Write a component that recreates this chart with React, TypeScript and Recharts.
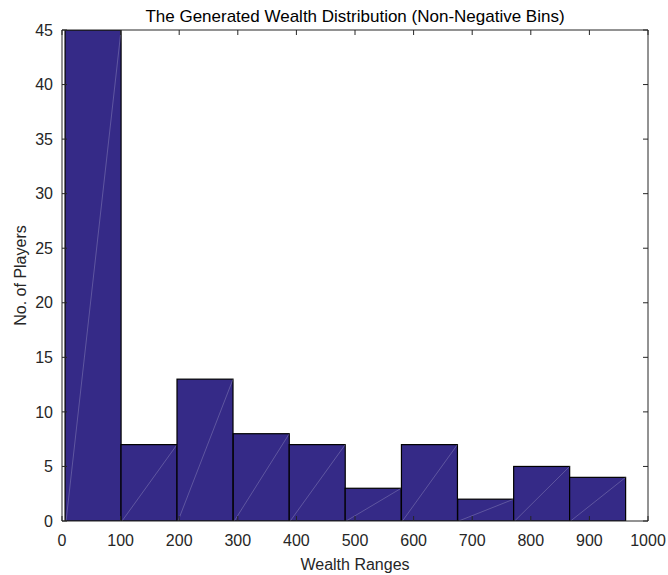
import React from "react";
import { Bar, BarChart, XAxis, YAxis } from "recharts";

// histogram bins: centre of each wealth bin and its player count
const binCenters = [53, 148.5, 244, 340, 435.5, 531, 627, 723, 818.5, 914];
const playerCounts = [45, 7, 13, 8, 7, 3, 7, 2, 5, 4];

const xTicks = [0, 100, 200, 300, 400, 500, 600, 700, 800, 900, 1000];
const yTicks = [0, 5, 10, 15, 20, 25, 30, 35, 40, 45];

const BAR_FILL = "#352a87";
const AXIS_COLOR = "#262626";
const FONT = "'Liberation Sans', Arial, Helvetica, sans-serif";

const data = binCenters.map((x, i) => ({ x, count: playerCounts[i] }));

// filled bin with black edge and the faint diagonal seam across the patch
function HistBar(props: any) {
  const { x, y, width, height } = props;
  if (!height) return <g />;
  return (
    <g>
      <rect x={x} y={y} width={width} height={height} fill={BAR_FILL} stroke="#000" strokeWidth={1.2} />
      <line
        x1={x + 1}
        y1={y + height}
        x2={x + width}
        y2={y}
        stroke="rgba(255,255,255,0.35)"
        strokeWidth={0.6}
      />
    </g>
  );
}

const noLabel = () => <g />;
const tickStyle = { fontSize: 16, fill: AXIS_COLOR, fontFamily: FONT };

export default function App() {
  return (
    <div style={{ position: "absolute", left: 0, top: 0, background: "#fff" }}>
      <BarChart
        width={668}
        height={575}
        data={data}
        margin={{ top: 29, right: 19, left: 0, bottom: 0 }}
        barCategoryGap={0}
        barGap={0}
        style={{ fontFamily: FONT }}
      >
        <XAxis
          dataKey="x"
          type="number"
          domain={[0, 1000]}
          ticks={xTicks}
          interval={0}
          height={54}
          tickSize={-5}
          tickMargin={19}
          stroke={AXIS_COLOR}
          tick={tickStyle}
          allowDataOverflow
          label={{
            value: "Wealth Ranges",
            position: "insideBottom",
            offset: 5,
            style: { fontSize: 16, fill: AXIS_COLOR, fontFamily: FONT },
          }}
        />
        <XAxis
          xAxisId="top"
          dataKey="x"
          orientation="top"
          type="number"
          domain={[0, 1000]}
          ticks={xTicks}
          interval={0}
          height={1}
          tickSize={-5}
          tickMargin={0}
          stroke={AXIS_COLOR}
          tick={noLabel}
          allowDataOverflow
          label={{
            value: "The Generated Wealth Distribution (Non-Negative Bins)",
            position: "top",
            offset: 7,
            style: { fontSize: 17, fill: "#000", fontFamily: FONT },
          }}
        />
        <YAxis
          type="number"
          domain={[0, 45]}
          ticks={yTicks}
          interval={0}
          width={62}
          tickSize={-5}
          tickMargin={14}
          stroke={AXIS_COLOR}
          tick={tickStyle}
          allowDataOverflow
          label={{
            value: "No. of Players",
            angle: -90,
            position: "insideLeft",
            offset: 20,
            style: { fontSize: 16, fill: AXIS_COLOR, fontFamily: FONT, textAnchor: "middle" },
          }}
        />
        <YAxis
          yAxisId="right"
          orientation="right"
          type="number"
          domain={[0, 45]}
          ticks={yTicks}
          interval={0}
          width={1}
          tickSize={-5}
          tickMargin={0}
          stroke={AXIS_COLOR}
          tick={noLabel}
          allowDataOverflow
        />
        <Bar dataKey="count" fill={BAR_FILL} shape={HistBar} isAnimationActive={false} />
      </BarChart>
    </div>
  );
}
